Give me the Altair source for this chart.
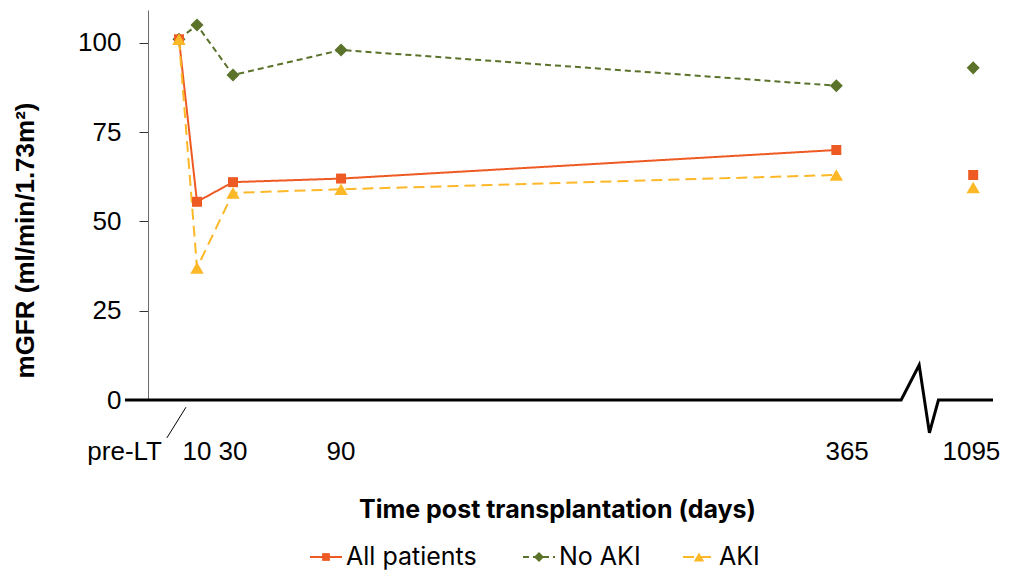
import altair as alt
import pandas as pd

# ---- data ----
days_pos = [0, 10, 30, 90, 365, 441]          # 1095 drawn after the axis break
tick_text = ["pre-LT", "10", "30", "90", "365", "1095"]
tick_label_x = [0, 10, 30, 90, 371, 440]

series_names = ["All patients", "No AKI", "AKI"]
all_patients = [101, 55.5, 61, 62, 70, 63]
no_aki = [101, 105, 91, 98, 88, 93]
aki = [101, 37, 58, 59, 63, 59.5]

colors = {"All patients": "#EE5A24", "No AKI": "#5A7229", "AKI": "#FDB827"}
shapes = {"All patients": "square", "No AKI": "diamond", "AKI": "triangle-up"}
sizes = {"All patients": 100, "No AKI": 170, "AKI": 180}
dashes = {"All patients": [1, 0], "No AKI": [6, 4], "AKI": [11, 6]}

# axis break decoration (data units)
break_x = [-30, 401, 411, 416.7, 421.7, 452]
break_y = [0, 0, 9.8, -9.2, 0, 0]
leader_x = [-6.7, 3.9]
leader_y = [-10.6, -2.0]

values = {"All patients": all_patients, "No AKI": no_aki, "AKI": aki}

X_DOM = [-17.2, 452]
Y_DOM = [0, 109.2]
xs = alt.Scale(domain=X_DOM, nice=False, zero=False)
ys = alt.Scale(domain=Y_DOM, nice=False)

FONT_NUM = "Liberation Sans"
FONT_TXT = "Inter"

axis_df = pd.DataFrame({"x": break_x, "y": break_y, "o": list(range(len(break_x)))})
base = alt.Chart(axis_df).mark_line(color="black", strokeWidth=3, clip=False).encode(
    x=alt.X("x:Q", scale=xs,
            axis=alt.Axis(domain=False, ticks=False, labels=False, grid=False,
                          title="Time post transplantation (days)",
                          titleFont=FONT_TXT, titleFontSize=25, titleFontWeight="bold",
                          titleColor="black", titleX=409, titleY=117,
                          titleAlign="center", titleBaseline="alphabetic")),
    y=alt.Y("y:Q", scale=ys,
            axis=alt.Axis(values=[0, 25, 50, 75, 100], grid=False,
                          domainColor="#6b6b6b", domainWidth=1,
                          tickColor="#333333", tickSize=9, tickWidth=1,
                          labelFont=FONT_NUM, labelFontSize=26, labelColor="black",
                          labelPadding=18,
                          title="mGFR (ml/min/1.73m²)",
                          titleFont=FONT_NUM, titleFontSize=26, titleFontWeight="bold",
                          titleColor="black", titleAngle=-90, titleX=-115, titleY=230,
                          titleAlign="center", titleBaseline="alphabetic")),
    order="o:Q",
)

leader = alt.Chart(pd.DataFrame({"x": leader_x, "y": leader_y})).mark_line(
    color="black", strokeWidth=1, clip=False).encode(
    x=alt.X("x:Q", scale=xs), y=alt.Y("y:Q", scale=ys))

layers = [base, leader]

order_draw = ["No AKI", "All patients", "AKI"]
for name in order_draw:
    df = pd.DataFrame({"x": days_pos, "v": values[name]})
    line_df = df[df["x"] <= 365]
    layers.append(
        alt.Chart(line_df).mark_line(color=colors[name], strokeWidth=2,
                                     strokeDash=dashes[name], clip=False).encode(
            x=alt.X("x:Q", scale=xs), y=alt.Y("v:Q", scale=ys)))
for name in order_draw:
    df = pd.DataFrame({"x": days_pos, "v": values[name]})
    layers.append(
        alt.Chart(df).mark_point(shape=shapes[name], filled=True, opacity=1,
                                 color=colors[name], size=sizes[name], clip=False).encode(
            x=alt.X("x:Q", scale=xs), y=alt.Y("v:Q", scale=ys)))

lab_df = pd.DataFrame({"x": tick_label_x, "t": tick_text})
layers.append(
    alt.Chart(lab_df[lab_df["t"] == "pre-LT"]).mark_text(
        font=FONT_NUM, fontSize=26, align="right", baseline="middle", dx=-17,
        color="black").encode(x=alt.X("x:Q", scale=xs), y=alt.value(442), text="t:N"))
layers.append(
    alt.Chart(lab_df[lab_df["t"] != "pre-LT"]).mark_text(
        font=FONT_NUM, fontSize=26, align="center", baseline="middle",
        color="black").encode(x=alt.X("x:Q", scale=xs), y=alt.value(442), text="t:N"))

# custom legend
one = pd.DataFrame({"a": [0]})
leg_start = {"All patients": 162, "No AKI": 375, "AKI": 535}
LEG_Y = 547
for name in series_names:
    x0 = leg_start[name]
    layers.append(alt.Chart(one).mark_rule(color=colors[name], strokeWidth=2,
                                           strokeDash=dashes[name]).encode(
        x=alt.value(x0), x2=alt.value(x0 + 32), y=alt.value(LEG_Y)))
    layers.append(alt.Chart(one).mark_point(shape=shapes[name], filled=True, opacity=1,
                                            color=colors[name],
                                            size=sizes[name] * 0.6).encode(
        x=alt.value(x0 + 16), y=alt.value(LEG_Y)))
    layers.append(alt.Chart(one).mark_text(font=FONT_TXT, fontSize=25, align="left",
                                           baseline="middle", color="black").encode(
        x=alt.value(x0 + 36), y=alt.value(LEG_Y), text=alt.value(name)))

chart = alt.layer(*layers).properties(
    width=845, height=390,
    background="white",
    autosize=alt.AutoSizeParams(type="none"),
    padding={"left": 140, "top": 2, "right": 8, "bottom": 173},
).configure_view(strokeWidth=0, stroke="transparent")

chart.save("out.html", embed_options={"renderer": "svg", "actions": False})
